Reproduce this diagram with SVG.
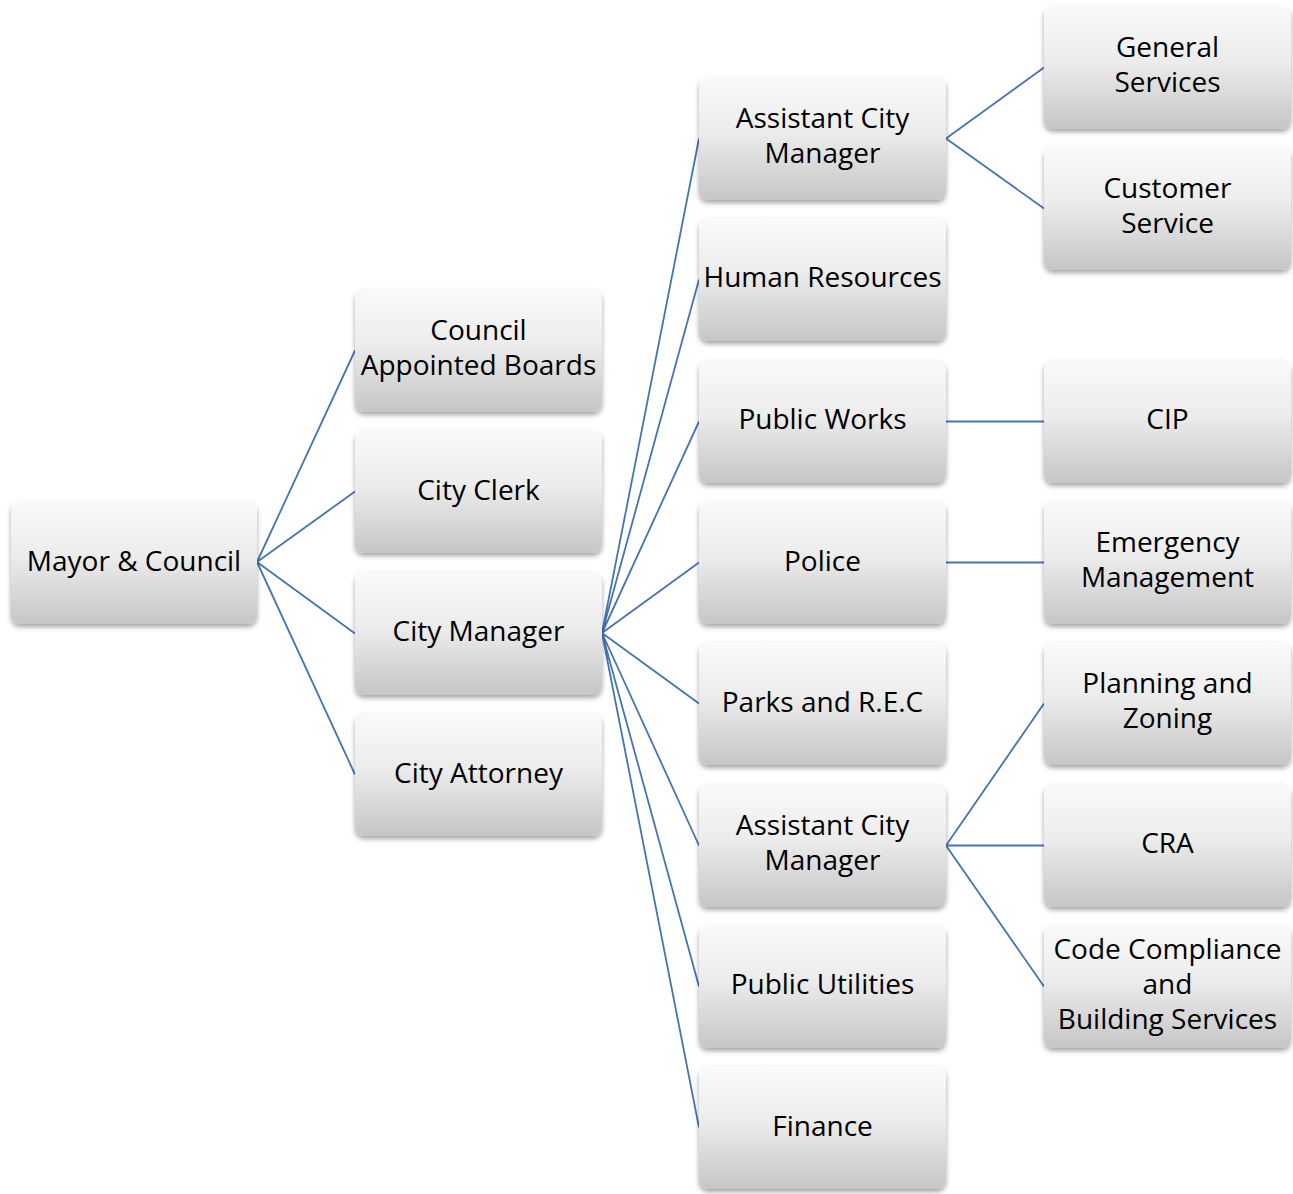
<svg xmlns="http://www.w3.org/2000/svg" width="1293" height="1194" viewBox="0 0 1293 1194">
<defs>
<linearGradient id="g" x1="0" y1="0" x2="0" y2="1">
<stop offset="0" stop-color="#fafafa"/>
<stop offset="0.45" stop-color="#ececec"/>
<stop offset="1" stop-color="#c6c6c6"/>
</linearGradient>
<filter id="sh" x="-10%" y="-10%" width="120%" height="130%">
<feDropShadow dx="0" dy="3" stdDeviation="2.5" flood-color="#000" flood-opacity="0.35"/>
</filter>
</defs>
<style>
.box{fill:url(#g);filter:url(#sh)}
.t{font-family:"Open Sans","Liberation Sans",sans-serif;font-size:28px;fill:#000;text-anchor:middle}
.c{stroke:#4674b0;stroke-width:1.8;fill:none}
</style>
<rect width="1293" height="1194" fill="#fff"/>
<g id="connectors">
<path class="c" d="M257,562 L355,350.5 M257,562 L355,491.5 M257,562 L355,633.5 M257,562 L355,774.5"/>
<path class="c" d="M602,633 L699,138.5 M602,633 L699,279.5 M602,633 L699,421.5 M602,633 L699,562.5 M602,633 L699,703.5 M602,633 L699,845.5 M602,633 L699,986.5 M602,633 L699,1127.5"/>
<path class="c" d="M946,138.5 L1044,67.5 M946,138.5 L1044,208.5"/>
<path class="c" d="M946,421.5 L1044,421.5 M946,562.5 L1044,562.5"/>
<path class="c" d="M946,845.5 L1044,703.5 M946,845.5 L1044,845.5 M946,845.5 L1044,986.5"/>
</g>
<g id="mayor-council"><rect class="box" x="11" y="501" width="246" height="123" rx="9"/><text class="t" x="134" y="571">Mayor &amp; Council</text></g>
<g id="council-appointed-boards"><rect class="box" x="355" y="289" width="247" height="123" rx="9"/><text class="t" x="478.5" y="340">Council</text><text class="t" x="478.5" y="375">Appointed Boards</text></g>
<g id="city-clerk"><rect class="box" x="355" y="430" width="247" height="123" rx="9"/><text class="t" x="478.5" y="500">City Clerk</text></g>
<g id="city-manager"><rect class="box" x="355" y="572" width="247" height="123" rx="9"/><text class="t" x="478.5" y="641">City Manager</text></g>
<g id="city-attorney"><rect class="box" x="355" y="713" width="247" height="123" rx="9"/><text class="t" x="478.5" y="783">City Attorney</text></g>
<g id="assistant-city-manager-1"><rect class="box" x="699" y="77" width="247" height="123" rx="9"/><text class="t" x="822.5" y="128">Assistant City</text><text class="t" x="822.5" y="163">Manager</text></g>
<g id="human-resources"><rect class="box" x="699" y="218" width="247" height="123" rx="9"/><text class="t" x="822.5" y="287">Human Resources</text></g>
<g id="public-works"><rect class="box" x="699" y="360" width="247" height="123" rx="9"/><text class="t" x="822.5" y="429">Public Works</text></g>
<g id="police"><rect class="box" x="699" y="501" width="247" height="123" rx="9"/><text class="t" x="822.5" y="571">Police</text></g>
<g id="parks-rec"><rect class="box" x="699" y="642" width="247" height="123" rx="9"/><text class="t" x="822.5" y="712">Parks and R.E.C</text></g>
<g id="assistant-city-manager-2"><rect class="box" x="699" y="784" width="247" height="123" rx="9"/><text class="t" x="822.5" y="835">Assistant City</text><text class="t" x="822.5" y="870">Manager</text></g>
<g id="public-utilities"><rect class="box" x="699" y="925" width="247" height="123" rx="9"/><text class="t" x="822.5" y="994">Public Utilities</text></g>
<g id="finance"><rect class="box" x="699" y="1066" width="247" height="123" rx="9"/><text class="t" x="822.5" y="1136">Finance</text></g>
<g id="general-services"><rect class="box" x="1044" y="6" width="247" height="123" rx="9"/><text class="t" x="1167.5" y="57">General</text><text class="t" x="1167.5" y="92">Services</text></g>
<g id="customer-service"><rect class="box" x="1044" y="147" width="247" height="123" rx="9"/><text class="t" x="1167.5" y="198">Customer</text><text class="t" x="1167.5" y="233">Service</text></g>
<g id="cip"><rect class="box" x="1044" y="360" width="247" height="123" rx="9"/><text class="t" x="1167.5" y="429">CIP</text></g>
<g id="emergency-management"><rect class="box" x="1044" y="501" width="247" height="123" rx="9"/><text class="t" x="1167.5" y="552">Emergency</text><text class="t" x="1167.5" y="587">Management</text></g>
<g id="planning-zoning"><rect class="box" x="1044" y="642" width="247" height="123" rx="9"/><text class="t" x="1167.5" y="693">Planning and</text><text class="t" x="1167.5" y="728">Zoning</text></g>
<g id="cra"><rect class="box" x="1044" y="784" width="247" height="123" rx="9"/><text class="t" x="1167.5" y="853">CRA</text></g>
<g id="code-compliance"><rect class="box" x="1044" y="925" width="247" height="123" rx="9"/><text class="t" x="1167.5" y="959">Code Compliance</text><text class="t" x="1167.5" y="994">and</text><text class="t" x="1167.5" y="1029">Building Services</text></g>
</svg>
